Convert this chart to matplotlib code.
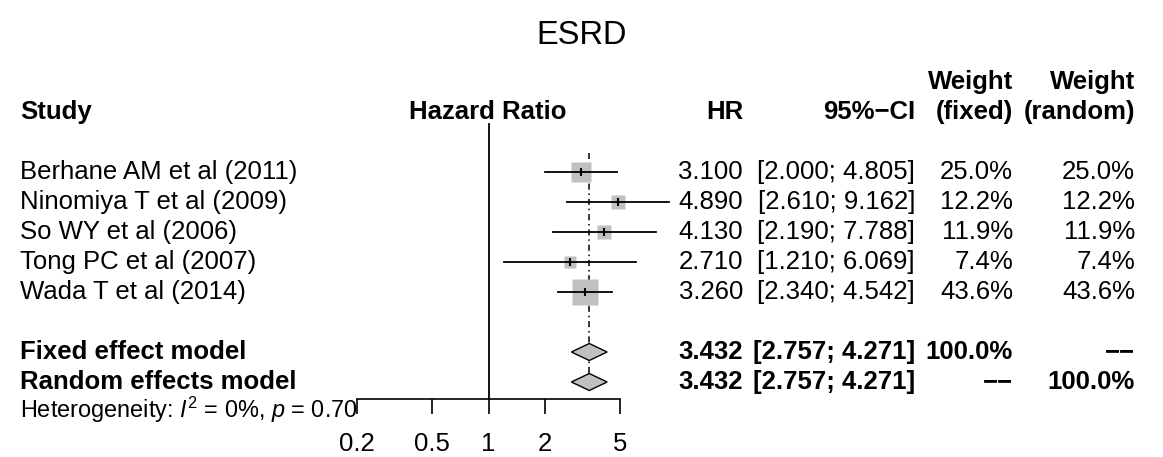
import numpy as np
import matplotlib
matplotlib.use("Agg")
import matplotlib.pyplot as plt

plt.rcParams['font.family'] = ['Liberation Sans', 'DejaVu Sans']
plt.rcParams['mathtext.fontset'] = 'custom'
plt.rcParams['mathtext.rm'] = 'Liberation Sans'
plt.rcParams['mathtext.it'] = 'Liberation Sans:italic'
plt.rcParams['mathtext.bf'] = 'Liberation Sans:bold'

# ---- data ----
title = "ESRD"
studies = ["Berhane AM et al (2011)", "Ninomiya T et al (2009)", "So WY et al (2006)",
           "Tong PC et al (2007)", "Wada T et al (2014)"]
hr = [3.100, 4.890, 4.130, 2.710, 3.260]
lower = [2.000, 2.610, 2.190, 1.210, 2.340]
upper = [4.805, 9.162, 7.788, 6.069, 4.542]
w_fixed = [25.0, 12.2, 11.9, 7.4, 43.6]
w_random = [25.0, 12.2, 11.9, 7.4, 43.6]
pooled_labels = ["Fixed effect model", "Random effects model"]
pooled_hr = [3.432, 3.432]
pooled_lower = [2.757, 2.757]
pooled_upper = [4.271, 4.271]
pooled_wf = ["100.0%", "\u2212\u2212"]
pooled_wr = ["\u2212\u2212", "100.0%"]
heterogeneity = r"Heterogeneity: $I^2$ = 0%, $p$ = 0.70"
xticks = [0.2, 0.5, 1, 2, 5]
xticklabels = ["0.2", "0.5", "1", "2", "5"]

# ---- layout (pixels) ----
W, H = 1163, 457
FS = 18.5
fig = plt.figure(figsize=(W / 100, H / 100), dpi=100)
ax = fig.add_axes([0, 0, 1, 1])
ax.set_xlim(0, W)
ax.set_ylim(H, 0)
ax.axis('off')

row0, dy = 172, 30
study_y = [row0 + dy * i for i in range(len(studies))]
pooled_y = [study_y[-1] + 2 * dy, study_y[-1] + 3 * dy]

x_study, x_hr, x_ci, x_wf, x_wr = 20, 743, 915, 1013, 1135

ax.text(582, 35, title, ha='center', va='center', fontsize=23.5)
ax.text(x_study, 112, "Study", ha='left', va='center', fontsize=FS, fontweight='bold')
ax.text(488, 112, "Hazard Ratio", ha='center', va='center', fontsize=FS, fontweight='bold')
ax.text(x_hr, 112, "HR", ha='right', va='center', fontsize=FS, fontweight='bold')
ax.text(x_ci, 112, "95%\u2212CI", ha='right', va='center', fontsize=FS, fontweight='bold')
ax.text(x_wf, 82, "Weight", ha='right', va='center', fontsize=FS, fontweight='bold')
ax.text(x_wf, 112, "(fixed)", ha='right', va='center', fontsize=FS, fontweight='bold')
ax.text(x_wr, 82, "Weight", ha='right', va='center', fontsize=FS, fontweight='bold')
ax.text(x_wr, 112, "(random)", ha='right', va='center', fontsize=FS, fontweight='bold')

for s, h, lo, up, wf, wr, y in zip(studies, hr, lower, upper, w_fixed, w_random, study_y):
    ax.text(x_study, y, s, ha='left', va='center', fontsize=FS)
    ax.text(x_hr, y, f"{h:.3f}", ha='right', va='center', fontsize=FS)
    ax.text(x_ci, y, f"[{lo:.3f}; {up:.3f}]", ha='right', va='center', fontsize=FS)
    ax.text(x_wf, y, f"{wf:.1f}%", ha='right', va='center', fontsize=FS)
    ax.text(x_wr, y, f"{wr:.1f}%", ha='right', va='center', fontsize=FS)

for lab, h, lo, up, wf, wr, y in zip(pooled_labels, pooled_hr, pooled_lower, pooled_upper,
                                     pooled_wf, pooled_wr, pooled_y):
    ax.text(x_study, y, lab, ha='left', va='center', fontsize=FS, fontweight='bold')
    ax.text(x_hr, y, f"{h:.3f}", ha='right', va='center', fontsize=FS, fontweight='bold')
    ax.text(x_ci, y, f"[{lo:.3f}; {up:.3f}]", ha='right', va='center', fontsize=FS, fontweight='bold')
    ax.text(x_wf, y, wf, ha='right', va='center', fontsize=FS, fontweight='bold')
    ax.text(x_wr, y, wr, ha='right', va='center', fontsize=FS, fontweight='bold')

ax.text(x_study, 410, heterogeneity, ha='left', va='center', fontsize=16.9)

# ---- forest panel ----
px_left, px_right, px_top, px_bottom = 357, 620, 124, 399
fx = fig.add_axes([px_left / W, (H - px_bottom) / H, (px_right - px_left) / W,
                   (px_bottom - px_top) / H])
fx.set_xscale('log')
fx.set_xlim(0.2, 5)
fx.set_ylim(px_bottom, px_top)
fx.patch.set_alpha(0)
for sp in ['left', 'right', 'top']:
    fx.spines[sp].set_visible(False)
fx.spines['bottom'].set_linewidth(1.2)
fx.set_yticks([])
fx.set_xticks(xticks)
fx.set_xticklabels(xticklabels)
fx.minorticks_off()
fx.tick_params(axis='x', direction='out', length=10.8, width=1.2, labelsize=FS, pad=13)

fx.plot([1, 1], [px_top, px_bottom], color='black', lw=1.3, clip_on=False)
fx.plot([pooled_hr[0]] * 2, [153, pooled_y[1] - 8], color='black', lw=1.1,
        linestyle=(0, (4, 2.5, 1, 2.5)), clip_on=False, zorder=1)

for h, lo, up, wf, y in zip(hr, lower, upper, w_fixed, study_y):
    side_px = 3.6 * np.sqrt(wf) + 2.2
    fx.plot(h, y, marker='s', ms=side_px * 0.72, color='#c0c0c0', mec='none',
            clip_on=False, zorder=2)
    fx.plot([lo, up], [y, y], color='black', lw=1.3, clip_on=False, zorder=3)
    fx.plot(h, y, marker='|', ms=6, mew=1.5, color='black', clip_on=False, zorder=4)

for h, lo, up, y in zip(pooled_hr, pooled_lower, pooled_upper, pooled_y):
    fx.fill([lo, h, up, h], [y, y - 8.5, y, y + 8.5], facecolor='#c0c0c0',
            edgecolor='black', lw=1, clip_on=False, zorder=3)

fig.savefig("out.png", dpi=100)
